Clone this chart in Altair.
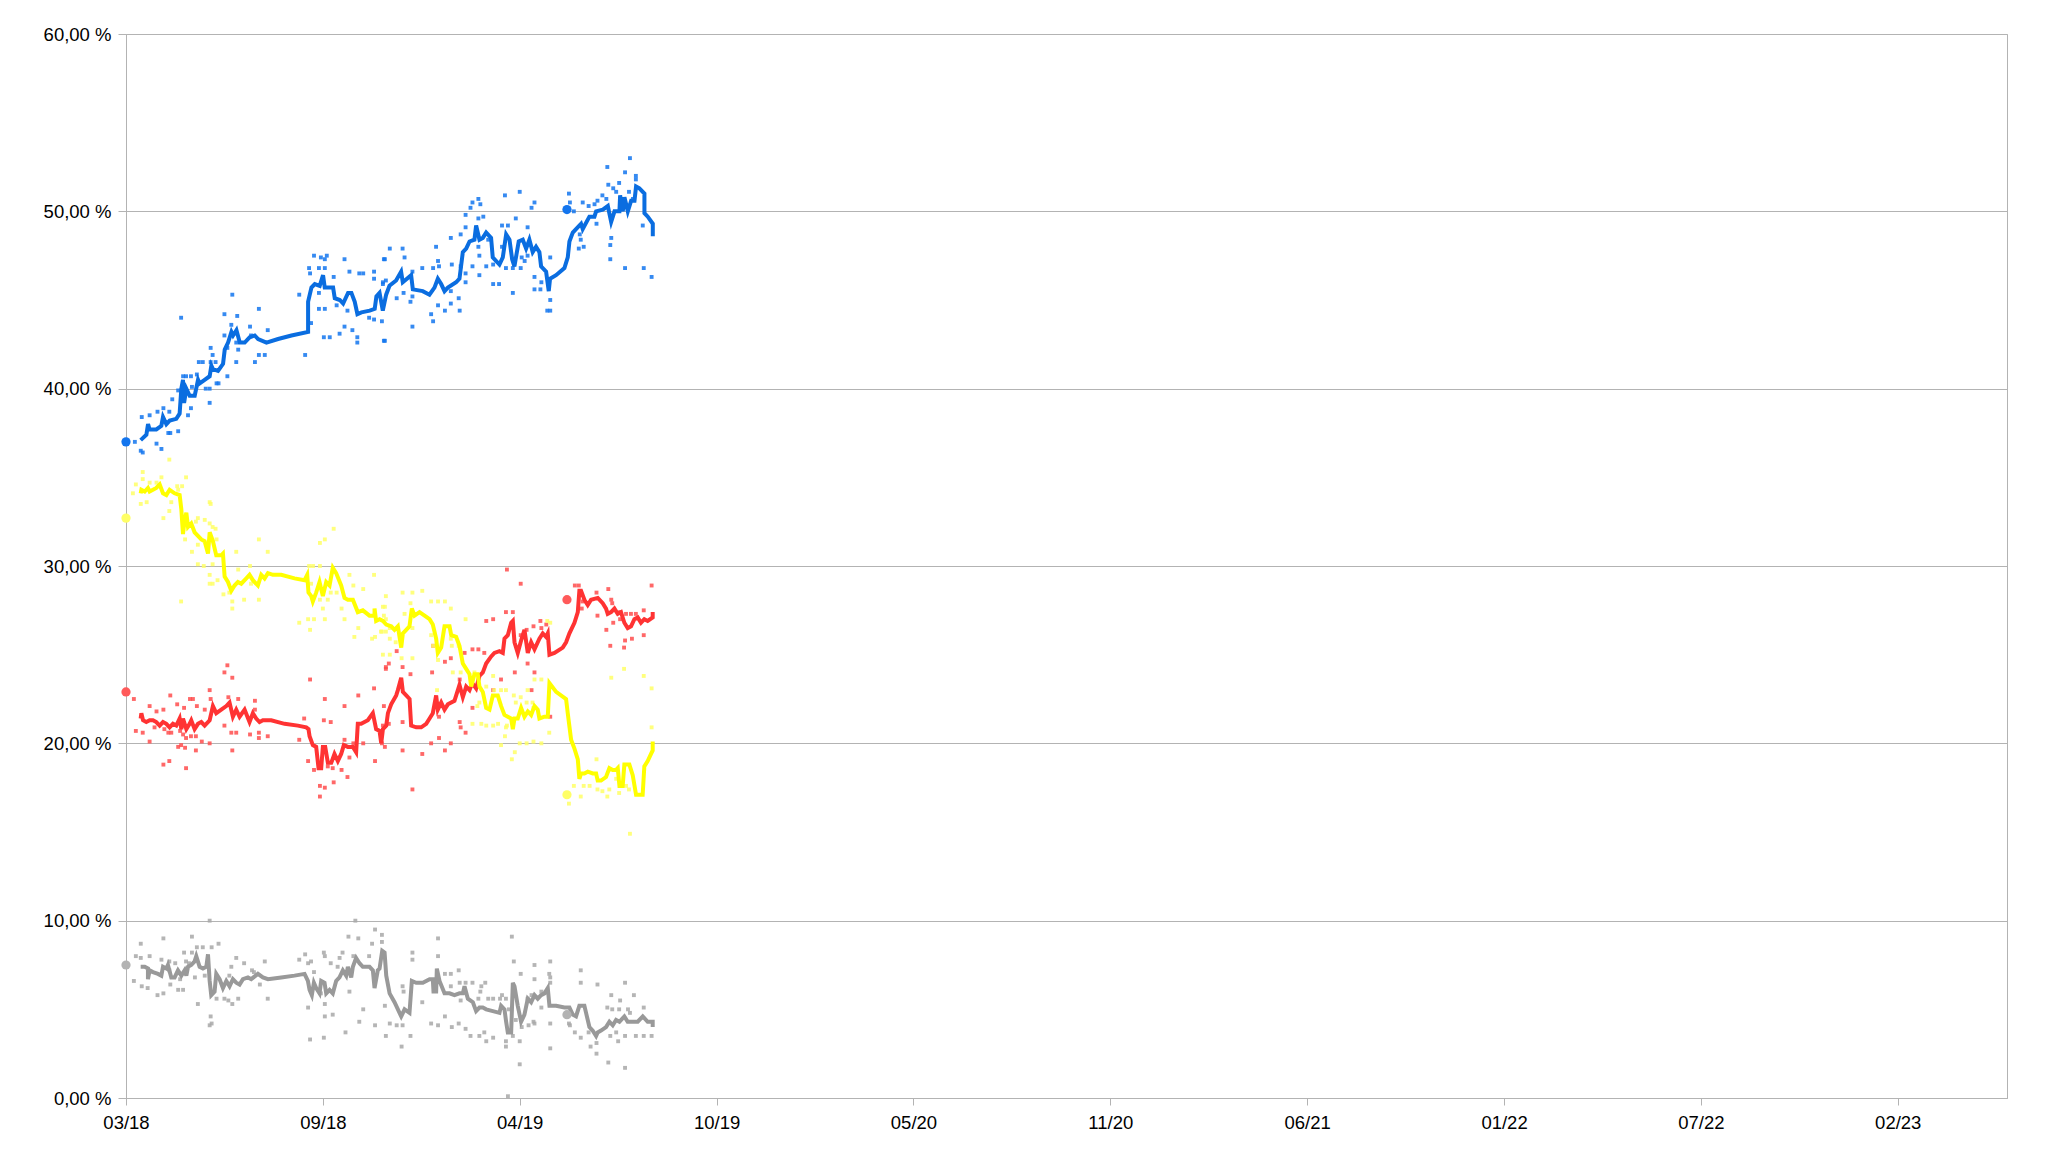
import pandas as pd
import altair as alt

# ---------------- data (days after the 4 March 2018 election, percent) ----------------
START = "2018-03-04"
END = "2023-05-28"
RESULT_DATES = ["2018-03-04", "2019-05-26"]
X_TICKS = ["2018-03-04", "2018-09-20", "2019-04-08", "2019-10-25", "2020-05-12",
           "2020-11-28", "2021-06-16", "2022-01-02", "2022-07-21", "2023-02-06"]
Y_TICKS = [0, 10, 20, 30, 40, 50, 60]

BLUE_RESULTS = [37.0, 50.1]
YELLOW_RESULTS = [32.7, 17.1]
RED_RESULTS = [22.9, 28.1]
GRAY_RESULTS = [7.5, 4.7]

BLUE_TREND = [(14.9,37.1),(20.7,37.4),(22.4,38.0),(24.0,37.7),(30.8,37.7),(35.9,37.9),(37.6,38.4),(41.0,38.0),
    (44.4,38.2),(51.1,38.3),(54.5,38.6),(56.2,40.0),(57.9,40.5),(59.0,39.2),(61.3,40.0),(64.7,39.6),(69.8,39.6),
    (73.2,40.5),(74.8,40.3),(79.9,40.5),(85.0,40.7),(86.7,41.3),(88.4,41.1),(93.5,41.0),(98.6,41.4),(100.3,42.2),
    (103.7,42.6),(107.1,43.2),(108.8,43.0),(112.2,43.3),(115.6,42.6),(120.6,42.6),(125.7,42.9),(130.8,43.0),
    (134.2,42.8),(142.7,42.6),(154.5,42.8),(168.1,43.0),(185.0,43.2),(185.0,44.9),(188.4,45.7),(191.8,45.9),
    (196.8,45.8),(200.2,46.4),(201.9,45.7),(210.4,45.7),(212.1,45.1),(217.2,45.0),(220.6,44.8),(225.6,45.4),
    (229.0,45.4),(232.4,44.9),(235.1,44.2),(239.2,44.3),(247.6,44.4),(252.7,44.5),(254.4,45.2),
    (257.6,45.4),(260.9,44.4),(264.3,45.3),(267.7,45.8),(274.4,46.1),(279.5,46.6),(281.2,46.0),(289.7,46.4),
    (291.4,45.6),(301.5,45.5),(308.3,45.3),(313.4,45.7),(316.8,46.2),(320.2,45.9),(323.6,45.5),(327.0,45.7),
    (335.4,46.0),(338.8,46.2),(342.2,47.7),(345.6,47.9),(349.0,48.3),(354.0,48.4),(355.7,49.2),(359.1,48.4),
    (362.5,48.5),(365.9,48.8),(370.9,48.5),(372.6,47.4),(379.4,47.0),(382.8,47.4),(386.2,48.7),(389.6,48.4),
    (392.3,47.3),(394.6,46.9),(399.0,48.3),(403.1,48.4),(406.5,47.9),(409.8,48.4),(413.2,47.7),(416.6,48.0),
    (420.0,47.7),(421.7,46.9),(426.8,46.6),(429.5,45.5),(430.8,46.2),(436.9,46.4),(445.4,46.8),(448.8,47.4),
    (450.5,48.3),(453.9,48.8),(457.2,49.0),(462.3,49.3),(464.0,49.0),(470.8,49.7),(475.9,49.7),(477.6,50.0),
    (484.4,50.1),(489.5,50.3),(492.9,49.4),(496.3,50.0),(501.3,50.0),(502.0,50.9),(504.7,50.0),(506.4,50.8),
    (509.8,50.0),(513.2,50.6),(516.6,50.6),(518.2,51.4),(521.6,51.3),(526.7,51.0),(526.7,49.9),(530.1,49.7),
    (535.2,49.3),(535.2,48.6)]

BLUE_POLLS = [(9,37.0),(15,36.5),(17,36.4),(31,36.9),(36,36.6),(16,38.4),(24,38.5),(32,38.7),(38,38.9),(44,38.7),
    (43,37.5),(45,37.5),(53,37.6),(47,39.4),(56,44.0),(53,39.9),(58,40.7),(61,40.7),(66,40.7),(67,40.1),(66,38.9),
    (63,38.5),(72,40.8),(74,41.5),(78,41.5),(81,40.0),(85,40.0),(85,39.2),(86,42.3),(88,41.9),(86,41.5),(91,41.5),
    (92,40.3),(94,40.3),(100,44.2),(103,40.7),(100,43.0),(103,42.3),(107,43.6),(108,45.3),(113,44.1),(112,42.6),
    (114,42.2),(112,41.5),(126,43.5),(127,43.0),(131,41.5),(135,41.9),(141,41.9),(135,44.5),(144,43.3),(176,45.3),
    (182,41.9),(188,43.7),(186,46.8),(187,46.5),(191,47.5),(196,46.8),(198,47.4),(202,47.3),(204,47.5),(202,46.8),
    (196,45.4),(196,44.5),(202,44.5),(211,46.3),(201,42.9),(207,42.9),(214,44.7),(217,43.1),(222,47.3),(222,43.5),
    (230,43.3),(227,46.6),(225,44.4),(237,46.5),(241,46.5),(252,46.6),(252,46.2),(235,42.9),(235,42.6),(247,44.0),
    (252,43.9),(260,43.8),(262,47.3),(262,42.7),(268,47.9),(261,45.9),
    (263,47.3),(261,46.0),(264,46.1),(263,42.7),(275,45.1),(281,47.9),(283,47.4),(282,45.4),(289,44.9),(291,45.2),
    (291,43.5),(291,46.6),(301,46.8),(312,46.8),(310,44.2),(312,43.8),(315,48.0),(317,47.2),(318,46.9),(317,44.7),
    (324,44.4),(330,48.5),(331,47.0),(330,45.5),(330,44.8),(338,45.1),(339,44.4),(340,46.9),(340,48.7),(345,49.1),
    (345,49.8),(345,46.0),(345,46.5),(350,50.2),(352,50.5),(352,46.9),(358,50.7),(360,50.4),(358,49.6),(358,48.0),
    (359,47.5),(359,46.4),(363,49.7),(366,46.9),(368,48.4),(373,47.0),(373,45.9),(379,45.9),(382,49.2),(385,50.9),
    (388,49.2),(386,46.8),(382,48.0),(393,46.8),(393,45.4),(396,49.6),(400,51.1),(401,46.8),(402,47.4),(405,47.2),
    (408,49.1),(408,47.5),(412,50.2),(415,50.5),(415,46.3),(415,45.6),(421,45.6),(422,46.0),(431,47.4),(431,45.0),
    (428,44.4),(431,44.4),(450,51.0),(451,50.5),(455,50.0),(461,48.7),(462,48.4),(460,47.9),(465,48.0),(464,50.5),
    (470,50.3),(476,50.4),(479,50.6),(478,49.3),(484,50.9),(489,52.5),(490,51.5),(488,50.7),(492,48.1),(493,48.5),
    (492,47.3),(495,51.3),(498,51.1),(501,51.6),(507,52.2),(511,51.1),(512,53.0),(518,52.0),(518,51.8),(515,50.7),
    (507,46.8),(525,49.2),(526,46.8),(534,46.3)]

YELLOW_TREND = [(14.9,34.1),(15.6,34.3),(19.0,34.2),(22.3,34.4),(24.0,34.2),(27.4,34.3),(30.8,34.4),(34.2,34.6),
    (37.6,34.1),(41.0,34.0),(44.3,34.3),(49.4,34.1),(54.5,34.0),(56.2,33.2),(57.9,31.8),(59.6,32.6),(61.3,33.0),
    (63.0,32.2),(66.3,32.4),(69.7,31.9),(73.1,31.7),(76.5,31.5),(79.9,31.4),(83.3,30.7),(85.0,31.9),(88.3,31.4),
    (91.7,30.6),(96.8,30.6),(98.5,30.7),(100.2,29.4),(103.6,29.1),(107.0,28.6),(110.3,28.9),(113.7,29.1),
    (117.1,29.0),(122.2,29.3),(125.5,29.5),(128.9,29.2),(134.0,28.9),(137.4,29.5),(140.8,29.3),(144.2,29.6),
    (149.2,29.5),(157.7,29.5),(171.2,29.3),(181.4,29.2),(184.1,29.5),(185.4,28.5),(188.2,28.3),(189.8,28.0),
    (193.2,28.5),(196.6,29.1),(200.0,28.3),(203.4,29.1),(206.8,28.9),(210.1,29.9),(213.5,29.6),(218.6,28.9),
    (222.0,28.2),(225.4,28.1),(230.5,28.1),(235.5,27.4),(240.6,27.5),(247.4,27.2),(252.5,27.2),(252.5,27.6),
    (254.1,26.9),(257.6,27.0),(261.0,26.9),(264.4,26.7),(269.4,26.6),(272.8,26.4),(276.2,26.6),(279.6,25.4),
    (281.3,26.2),(284.7,26.4),(288.0,26.6),(290.4,27.6),(293.1,27.2),(298.2,27.4),(303.3,27.2),(308.4,27.0),
    (311.7,26.7),(315.1,25.9),(316.8,25.1),(320.2,25.4),(321.9,26.0),(323.6,26.6),(328.7,26.6),(330.4,26.1),
    (335.4,26.0),(338.8,25.5),(342.2,24.5),(345.6,24.2),(349.0,23.9),(350.7,23.2),(354.0,23.9),(357.4,23.9),
    (359.1,23.2),(362.5,22.9),(365.9,22.0),(369.3,21.9),(372.7,22.7),(377.7,22.7),(381.1,22.1),(384.5,21.6),
    (387.9,21.5),(391.3,21.4),(393.0,20.8),(394.7,21.4),(398.0,21.4),(401.4,22.0),(404.8,21.5),(408.2,21.8),
    (411.6,21.6),(415.0,22.1),(418.3,21.9),(420.0,21.4),(425.1,21.5),(428.5,21.5),(430.2,23.4),(437.0,22.9),
    (447.1,22.5),(448.8,21.7),(452.2,20.2),(455.6,19.7),(459.0,19.1),(460.6,18.0),(462.3,18.3),(465.7,18.3),
    (469.1,18.4),(474.2,18.3),(477.6,18.3),(479.2,17.9),(482.6,17.9),(487.7,18.1),(491.1,18.6),(494.5,18.5),
    (497.9,18.5),(499.6,18.6),(501.3,17.6),(504.6,17.6),(506.3,18.8),(511.4,18.8),(514.8,18.2),(518.2,17.1),
    (524.9,17.1),(526.6,18.7),(530.0,19.0),(533.4,19.4),(535.1,19.6),(535.1,20.1)]

YELLOW_POLLS = [(44,36.0),(17,35.3),(17,34.9),(10,34.6),(7,34.1),(15,33.5),(21,33.6),(24,34.7),(31,34.7),(36,35.0),
    (52,34.5),(53,34.3),(57,34.5),(61,35.0),(46,33.6),(44,33.1),(38,32.7),(85,33.6),(86,33.5),(71,32.5),(73,32.7),
    (80,32.6),(85,32.4),(88,32.2),(91,32.1),(60,31.5),(67,30.8),(73,31.2),(92,31.5),(73,30.1),(79,30.0),(88,30.1),
    (85,29.5),(85,29.0),(88,29.0),(93,29.2),(99,28.4),(105,28.5),(108,28.0),(108,27.6),(112,30.8),(114,29.8),
    (120,28.1),(126,30.0),(127,29.0),(135,28.1),(135,31.5),(144,30.8),(56,28.0),(176,26.8),(185,27.0),(191,27.0),
    (187,26.4),(186,30.0),(190,30.0),(197,30.0),(197,31.3),(202,31.5),(211,32.1),(188,29.0),(197,28.1),(200,27.6),
    (202,27.0),(205,28.1),(208,28.5),(214,28.5),(227,29.5),(231,28.9),(241,28.7),(252,29.5),(219,27.6),(222,27.0),
    (232,26.0),(236,26.5),(250,25.9),(253,26.0),(261,27.7),(262,27.2),(260,26.3),(261,25.0),(268,25.0),(268,25.9),
    (264,28.3),(263,27.7),(264,27.0),(259,26.3),(264,26.3),(268,26.5),(274,25.7),(281,28.5),(291,28.5),(301,28.6),
    (289,27.9),(283,27.3),(291,26.5),(280,24.8),(291,24.8),(310,28.0),(317,28.0),(324,28.0),(330,27.6),(345,27.0),
    (310,26.1),(312,25.5),(317,24.7),(330,25.9),(331,25.5),(338,25.5),(332,24.0),(316,23.0),(340,24.0),(354,24.0),
    (357,23.2),(359,22.3),(357,22.1),(366,23.2),(373,23.8),(374,23.0),(381,23.0),(386,23.0),(352,21.1),(361,21.1),
    (366,21.0),(373,21.0),(378,21.1),(387,21.0),(394,22.7),(396,22.3),(401,22.6),(408,23.0),(407,22.3),(413,22.3),
    (414,22.0),(415,23.6),(422,23.6),(386,20.9),(385,20.4),(395,19.5),(392,19.1),(381,19.9),(400,20.0),(407,20.0),
    (414,20.1),(422,20.0),(430,20.6),(431,26.8),(428,26.9),(455,17.6),(450,16.6),(462,17.0),(465,17.6),(471,17.6),
    (478,19.1),(479,17.4),(484,17.3),(489,17.0),(491,17.4),(493,23.7),(498,18.0),(501,17.2),(506,24.2),(508,17.6),
    (511,17.4),(526,23.8),(534,23.1),(534,20.9),(512,14.9)]

RED_TREND = [(14.9,21.4),(15.6,21.7),(17.3,21.3),(20.6,21.2),(24.0,21.3),(27.4,21.3),(30.8,21.2),(34.2,21.0),
    (37.6,21.2),(41.0,21.1),(44.3,20.9),(47.7,21.1),(51.1,21.0),(54.5,21.4),(56.2,20.8),(57.9,21.4),(61.3,20.8),
    (64.6,21.1),(66.3,21.3),(69.7,20.8),(73.1,21.1),(76.5,21.2),(79.9,21.0),(85.0,21.3),(88.3,22.1),(91.7,21.7),
    (96.8,21.9),(101.9,22.1),(105.2,22.3),(108.6,21.5),(112.0,21.9),(115.4,21.5),(120.5,21.9),(125.5,21.2),
    (128.9,21.7),(132.3,21.4),(135.7,21.2),(139.1,21.3),(147.5,21.3),(161.1,21.1),(174.6,21.0),(183.1,20.9),
    (185.4,20.8),(186.5,20.4),(189.8,19.9),(193.2,19.8),(195.6,18.6),(198.3,18.6),(200.0,19.8),(202.4,19.8),
    (205.1,18.9),(208.5,18.9),(211.8,19.4),(215.2,19.0),(218.6,19.4),(221.3,19.9),(225.4,19.8),(230.5,19.8),
    (233.8,19.5),(235.5,21.1),(238.9,21.1),(245.7,21.3),(250.8,21.7),(254.1,20.8),(257.6,20.7),(259.3,20.0),
    (261.0,20.8),(264.4,21.0),(266.1,21.7),(269.4,22.2),(274.5,22.7),(276.2,23.0),(279.6,23.7),(281.3,22.9),
    (284.7,22.7),(288.1,22.5),(289.7,21.0),(294.8,20.9),(299.9,20.9),(305.0,21.1),(308.4,21.4),(311.7,21.7),
    (315.1,22.7),(316.8,21.9),(320.2,22.3),(323.6,21.9),(327.0,22.2),(333.7,22.4),(338.8,23.3),(342.2,22.6),
    (345.6,23.2),(349.0,23.0),(351.7,23.4),(355.7,23.1),(359.1,23.8),(362.5,24.0),(365.9,24.5),(371.0,24.9),
    (374.3,25.1),(379.4,25.2),(382.8,25.1),(384.5,25.9),(387.9,26.1),(391.3,26.8),(393.0,26.9),(394.7,25.7),
    (398.0,25.1),(401.4,25.8),(404.8,26.4),(408.2,25.1),(411.6,25.7),(415.0,25.3),(420.0,25.9),(423.4,26.2),
    (426.8,26.0),(428.5,26.2),(430.2,25.0),(435.3,25.1),(443.7,25.4),(447.1,25.7),(450.5,26.2),(455.6,26.8),
    (459.0,27.4),(460.6,28.6),(462.3,28.6),(465.7,28.1),(469.1,27.8),(472.5,28.1),(479.3,28.2),(484.3,27.9),
    (487.7,27.6),(489.4,27.3),(492.8,27.4),(496.2,27.6),(499.6,27.3),(502.9,27.4),(506.3,26.8),(509.7,26.5),
    (513.1,26.6),(516.5,27.0),(519.9,27.1),(523.2,26.8),(526.6,27.0),(530.0,26.9),(535.1,27.1),(535.1,27.4)]

RED_POLLS = [(8,22.5),(24,22.1),(31,21.8),(38,21.9),(45,22.7),(52,22.2),(59,22.0),(65,22.5),(68,22.5),(72,22.1),
    (80,21.9),(86,22.5),(85,23.0),(100,24.0),(103,24.4),(108,23.7),(104,22.6),(114,22.5),(131,22.4),(131,21.9),
    (10,20.7),(17,20.6),(24,20.1),(29,20.9),(39,20.8),(43,20.6),(46,20.6),(55,20.7),(58,20.5),(61,20.3),(66,20.4),
    (71,20.4),(77,20.1),(85,20.0),(100,21.0),(107,20.6),(112,20.6),(126,20.5),(135,20.6),(135,20.3),(144,20.4),
    (53,19.8),(56,19.9),(60,19.75),(71,19.6),(108,19.6),(38,18.8),(44,19.0),(61,18.6),(181,21.4),(176,20.2),
    (187,23.6),(202,22.5),(201,21.3),(208,21.2),(185,19.0),(191,18.5),(197,17.6),(197,17.0),(202,17.5),(205,18.7),
    (210,18.6),(211,17.8),(219,18.5),(225,18.1),(222,20.2),(222,22.1),(231,20.0),(227,19.2),(236,22.7),(241,20.0),
    (252,23.1),(253,19.0),(260,20.0),(262,22.1),(264,24.3),(267,24.5),(261,21.0),
    (263,19.8),(264,24.2),(267,21.1),(275,25.2),(281,24.3),(281,21.2),(281,19.6),(289,23.9),(291,17.4),(301,19.4),
    (310,20.0),(311,24.0),(318,20.3),(318,21.5),(312,25.5),(324,24.6),(330,24.8),(324,19.6),(330,20.0),(339,23.6),
    (339,21.2),(340,20.9),(345,20.6),(344,25.1),(352,22.0),(352,25.3),(358,25.3),(364,25.1),(366,26.9),(373,27.0),
    (373,23.0),(381,23.6),(387,29.8),(386,27.4),(393,27.4),(401,29.0),(395,24.0),(401,26.1),(407,26.4),(408,24.5),
    (415,24.0),(412,23.0),(414,26.6),(421,26.9),(422,26.5),(427,26.7),(428,26.0),(431,21.5),(456,28.9),(460,28.9),
    (464,28.0),(463,27.6),(469,27.9),(478,28.5),(479,27.2),(490,28.7),(493,28.1),(494,27.9),(488,26.4),(492,25.5),
    (495,26.8),(502,27.4),(502,27.0),(508,27.3),(513,27.3),(518,27.3),(507,25.8),(506,25.4),(514,25.9),(526,26.1),
    (526,27.5),(534,28.9)]

GRAY_TREND = [(14.9,7.4),(19.0,7.4),(22.3,7.3),(22.3,6.7),(24.0,7.2),(27.4,7.1),(32.5,7.0),(35.9,6.9),(37.6,7.4),
    (41.0,7.3),(42.6,7.5),(46.0,6.8),(49.4,6.8),(52.8,7.2),(56.2,6.9),(59.6,7.2),(61.3,6.9),(63.0,7.4),(66.3,7.5),
    (69.7,7.7),(71.4,8.0),(74.8,7.4),(78.2,7.3),(81.6,7.4),(83.3,8.1),(85.0,6.6),(86.6,5.8),(90.0,6.0),(91.7,7.0),
    (95.1,6.7),(98.5,6.2),(101.9,6.6),(105.2,6.3),(108.6,6.7),(112.0,6.5),(115.4,6.4),(118.8,6.7),(123.9,6.8),
    (127.2,6.7),(134.0,7.0),(139.1,6.8),(144.2,6.7),(157.7,6.8),(171.2,6.9),(181.4,7.0),(184.8,6.6),(186.5,6.1),
    (188.8,5.8),(190.9,6.5),(193.2,6.2),(196.6,5.9),(198.3,6.6),(201.7,6.5),(203.4,5.9),(206.8,6.1),(210.1,5.9),
    (213.5,6.6),(216.9,6.8),(220.3,7.2),(223.7,6.9),(225.4,7.4),(228.8,6.8),(230.5,7.4),(233.8,7.9),(237.2,7.6),
    (240.6,7.4),(247.4,7.4),(250.8,7.2),(252.5,6.2),(255.8,7.2),(257.6,7.3),(260.3,8.3),(262.7,8.2),(264.4,6.9),
    (267.8,5.9),(272.8,5.4),(277.9,4.8),(279.6,4.6),(283.0,5.0),(288.0,4.8),(290.4,6.6),(294.8,6.5),(301.6,6.5),
    (308.4,6.7),(311.7,6.7),(312.4,6.0),(315.1,6.0),(315.8,7.3),(318.5,6.6),(323.6,5.9),(328.7,5.9),(333.7,5.8),
    (338.8,5.9),(342.2,5.9),(343.9,6.3),(347.3,5.6),(352.4,5.4),(355.7,4.9),(359.1,5.1),(362.5,5.1),(365.9,5.0),
    (372.7,4.9),(379.4,4.8),(381.1,5.2),(384.5,5.0),(386.2,4.3),(387.9,3.7),(391.3,3.7),(393.0,6.5),(394.7,6.3),
    (398.0,5.2),(401.4,4.3),(404.8,4.7),(408.2,5.6),(411.6,5.4),(415.0,5.8),(418.3,5.6),(421.7,5.8),(425.1,5.9),
    (428.5,6.2),(430.2,5.2),(437.0,5.2),(445.4,5.1),(450.5,5.1),(453.9,4.7),(457.2,4.6),(460.6,5.2),(465.7,5.2),
    (467.4,4.8),(470.8,4.0),(474.2,3.8),(477.6,3.5),(479.2,3.7),(482.6,3.8),(487.7,4.0),(491.1,4.3),(494.5,4.1),
    (497.9,4.4),(501.3,4.3),(506.3,4.6),(509.7,4.3),(514.8,4.3),(519.9,4.3),(525.0,4.6),(530.0,4.3),(535.1,4.3),
    (535.1,4.0)]

GRAY_POLLS = [(15,8.7),(10,8.0),(15,7.9),(24,8.0),(8,6.6),(16,6.3),(22,6.2),(38,9.0),(36,7.8),(44,7.7),(44,7.2),
    (50,7.6),(59,8.2),(61,7.7),(64,7.6),(67,9.1),(67,8.2),(72,8.5),(78,8.5),(85,10.0),(87,8.5),(94,8.7),(32,5.8),
    (38,5.9),(45,6.4),(53,6.1),(58,6.1),(55,6.7),(73,5.3),(70,6.8),(80,6.9),(86,4.6),(85,4.1),(87,4.2),(92,5.6),
    (100,5.6),(104,5.5),(108,5.3),(114,5.6),(105,6.9),(107,7.4),(112,7.9),(120,7.6),(128,7.2),(130,7.1),(136,6.4),
    (141,7.7),(144,5.6),(176,7.8),(182,8.1),(185,7.6),(188,7.7),(191,7.1),(185,5.1),(187,3.3),(201,8.2),(202,8.0),
    (208,7.6),(215,7.4),(217,7.9),(220,8.2),(198,5.9),(202,5.3),(202,4.6),(210,4.7),(201,3.4),(223,3.7),(226,9.1),
    (233,10.0),(236,9.0),(227,6.0),(231,8.0),(241,5.0),(237,4.3),(247,8.0),(250,8.7),(253,9.5),(260,9.2),(260,8.8),
    (253,4.1),(263,5.2),(268,4.2),(264,3.5),
    (275,4.1),(281,6.3),(282,6.0),(281,4.1),(280,2.9),(289,3.5),(291,8.2),(291,7.8),(301,5.4),(310,4.2),(317,9.0),
    (317,8.0),(317,4.1),(324,4.6),(324,7.0),(330,7.0),(330,6.3),(331,4.0),(338,7.2),(339,6.5),(338,4.2),(345,6.5),
    (345,3.9),(340,5.5),(352,6.5),(350,3.5),(359,3.5),(361,6.3),(360,6.0),(358,5.6),(365,6.5),(364,3.7),(366,3.2),
    (368,5.6),(373,5.6),(373,3.4),(380,5.6),(382,5.8),(386,5.6),(389,5.0),(386,3.2),(386,2.9),(388,0.1),(392,9.1),
    (394,7.7),(393,3.5),(396,4.4),(400,1.9),(400,3.2),(401,7.0),(402,4.0),(408,5.6),(409,4.1),(412,5.8),(415,7.5),
    (415,6.7),(414,4.3),(415,4.2),(422,6.0),(422,5.1),(431,7.7),(430,7.0),(431,6.8),(431,6.5),(431,4.2),(431,2.8),
    (450,4.2),(451,4.1),(456,3.7),(462,7.2),(462,6.5),(462,3.4),(470,3.7),(472,2.9),(478,3.1),(478,2.5),(479,6.4),
    (490,2.0),(493,5.8),(489,5.1),(494,5.0),(492,3.5),(498,3.7),(500,3.2),(502,5.5),(501,5.0),(507,6.5),(507,1.7),
    (507,3.5),(510,5.0),(512,4.8),(516,5.8),(518,3.5),(526,5.1),(526,3.5),(534,3.5)]

SERIES = [
    # trend, polls, results, line colour, poll colour, result colour
    (GRAY_TREND, GRAY_POLLS, GRAY_RESULTS, "#999999", "#a8a8a8", "#b3b3b3"),
    (RED_TREND, RED_POLLS, RED_RESULTS, "#ff3333", "#ff4d4d", "#ff5a5a"),
    (YELLOW_TREND, YELLOW_POLLS, YELLOW_RESULTS, "#ffff00", "#ffff66", "#ffff66"),
    (BLUE_TREND, BLUE_POLLS, BLUE_RESULTS, "#0a6de0", "#1375ee", "#1375ee"),
]

t0 = pd.Timestamp(START, tz="UTC")


def ms(ts):
    return int(pd.Timestamp(ts).value // 10**6)


def days_to_ms(d):
    return ms(t0 + pd.to_timedelta(d, unit="D"))


x_domain = [ms(pd.Timestamp(START, tz="UTC")), ms(pd.Timestamp(END, tz="UTC"))]
x_values = [ms(pd.Timestamp(t, tz="UTC")) for t in X_TICKS]

x_enc_kwargs = dict(
    scale=alt.Scale(type="utc", domain=x_domain),
    axis=alt.Axis(values=x_values, labelExpr="utcFormat(datum.value, '%m/%y')",
                  grid=False, title=None, tickSize=7, labelPadding=8, labelFlush=False,
                  labelOverlap=False, domainColor="#b3b3b3", tickColor="#b3b3b3"),
)
y_enc_kwargs = dict(
    scale=alt.Scale(domain=[0, 60], nice=False, zero=True),
    axis=alt.Axis(values=Y_TICKS, labelExpr="replace(format(datum.value, '.2f'), '.', ',') + ' %'",
                  grid=True, gridColor="#b3b3b3", title=None, tickSize=8, labelPadding=7,
                  labelFlush=False, labelOverlap=False,
                  domainColor="#b3b3b3", tickColor="#b3b3b3"),
)

point_layers, line_layers, result_layers = [], [], []
for trend, polls, results, lc, pc, rc in SERIES:
    pdf = pd.DataFrame({"t": [days_to_ms(d) for d, _ in polls], "v": [v for _, v in polls]})
    tdf = pd.DataFrame({"t": [days_to_ms(d) for d, _ in trend], "v": [v for _, v in trend],
                        "o": list(range(len(trend)))})
    rdf = pd.DataFrame({"t": [ms(pd.Timestamp(d, tz="UTC")) for d in RESULT_DATES], "v": results})
    point_layers.append(
        alt.Chart(pdf).mark_point(shape="square", filled=True, size=15, color=pc, opacity=0.85)
        .encode(x=alt.X("t:T", **x_enc_kwargs), y=alt.Y("v:Q", **y_enc_kwargs))
    )
    line_layers.append(
        alt.Chart(tdf).mark_line(color=lc, strokeWidth=4, strokeJoin="miter")
        .encode(x=alt.X("t:T", **x_enc_kwargs), y=alt.Y("v:Q", **y_enc_kwargs), order="o:Q")
    )
    result_layers.append(
        alt.Chart(rdf).mark_circle(size=85, color=rc, opacity=1)
        .encode(x=alt.X("t:T", **x_enc_kwargs), y=alt.Y("v:Q", **y_enc_kwargs))
    )

chart = alt.layer(*point_layers, *line_layers, *result_layers).properties(
    width=1881, height=1064,
    autosize=alt.AutoSizeParams(type="none"),
    padding={"left": 126, "top": 34, "right": 41, "bottom": 58},
    background="white",
).configure_view(
    stroke="#b3b3b3", strokeWidth=1
).configure_axis(
    labelFont="Liberation Sans", labelFontSize=18.5, labelColor="#000000",
    domainWidth=1, tickWidth=1, gridWidth=1,
)

chart.save("out.html", embed_options={"renderer": "svg", "actions": False})
